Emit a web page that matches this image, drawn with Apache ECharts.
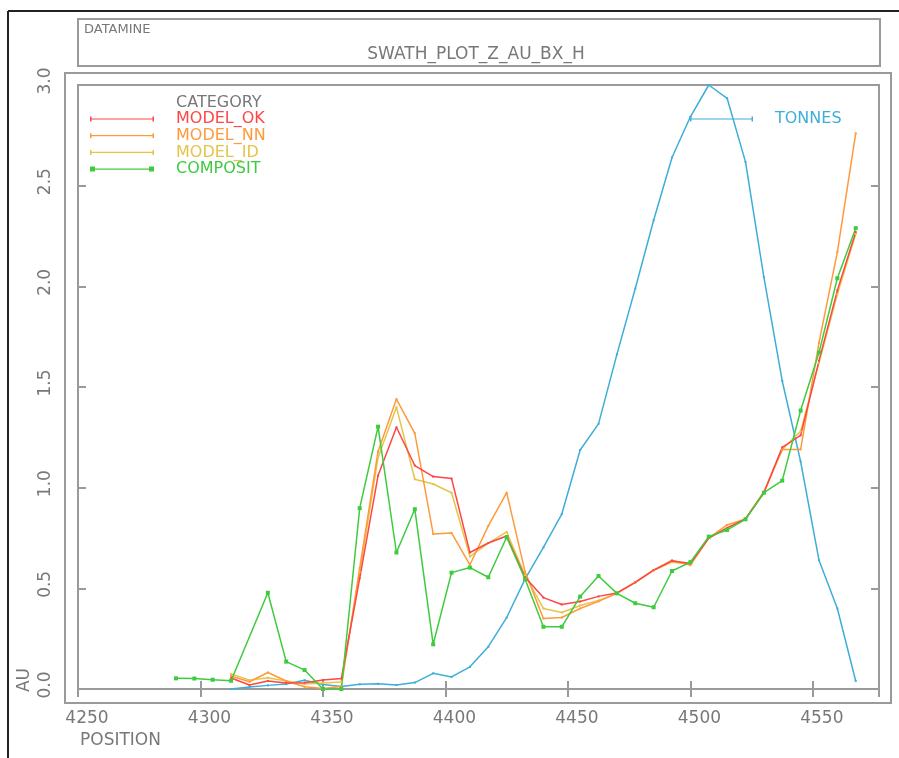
<!DOCTYPE html>
<html><head><meta charset="utf-8">
<script src="https://cdn.jsdelivr.net/npm/echarts@6/dist/echarts.min.js"></script>
<style>html,body{margin:0;padding:0;background:#fff}#c{width:899px;height:758px}</style>
</head><body><div id="c"></div>
<script>
const positions = [4290, 4297.5, 4305, 4312.5, 4320, 4327.5, 4335, 4342.5, 4350, 4357.5,
  4365, 4372.5, 4380, 4387.5, 4395, 4402.5, 4410, 4417.5, 4425, 4432.5,
  4440, 4447.5, 4455, 4462.5, 4470, 4477.5, 4485, 4492.5, 4500, 4507.5,
  4515, 4522.5, 4530, 4537.5, 4545, 4552.5, 4560, 4567.5];

const modelOK = [null, null, null, 0.055, 0.02, 0.04, 0.03, 0.031, 0.045, 0.052,
  0.55, 1.06, 1.30, 1.11, 1.055, 1.045, 0.678, 0.725, 0.76, 0.555,
  0.454, 0.42, 0.435, 0.46, 0.477, 0.53, 0.59, 0.636, 0.624, 0.75,
  0.80, 0.845, 0.975, 1.20, 1.26, 1.63, 1.98, 2.27];

const modelNN = [null, null, null, 0.065, 0.036, 0.082, 0.04, 0.011, 0.003, 0.012,
  0.60, 1.18, 1.44, 1.27, 0.77, 0.775, 0.617, 0.81, 0.975, 0.583,
  0.35, 0.355, 0.40, 0.435, 0.475, 0.53, 0.59, 0.64, 0.615, 0.75,
  0.815, 0.845, 0.98, 1.19, 1.19, 1.72, 2.17, 2.76];

const modelID = [null, null, null, 0.075, 0.044, 0.056, 0.04, 0.025, 0.03, 0.035,
  0.58, 1.15, 1.40, 1.042, 1.018, 0.975, 0.658, 0.725, 0.78, 0.565,
  0.40, 0.38, 0.415, 0.44, 0.475, 0.53, 0.59, 0.63, 0.62, 0.75,
  0.80, 0.845, 0.975, 1.19, 1.28, 1.62, 1.96, 2.26];

const composit = [0.053, 0.052, 0.046, 0.041, null, 0.478, 0.136, 0.094, 0.0, 0.0,
  0.898, 1.303, 0.678, 0.893, 0.222, 0.578, 0.603, 0.555, 0.754, 0.546,
  0.309, 0.309, 0.459, 0.561, 0.475, 0.426, 0.406, 0.586, 0.63, 0.757,
  0.79, 0.843, 0.975, 1.035, 1.383, 1.671, 2.04, 2.289];

const tonnes = [null, null, null, 0.0, 0.01, 0.018, 0.025, 0.043, 0.022, 0.012,
  0.023, 0.026, 0.02, 0.032, 0.078, 0.06, 0.11, 0.21, 0.355, 0.546,
  0.703, 0.869, 1.187, 1.317, 1.662, 1.989, 2.328, 2.64, 2.842, 3.0,
  2.934, 2.618, 2.046, 1.53, 1.13, 0.64, 0.40, 0.04];

const xTicks = { min: 4250, max: 4577, interval: 50 };
const yTicks = { min: 0, max: 3, interval: 0.5 };

const FONT = "'DejaVu Sans', sans-serif";
const GRAY = '#787878';
const BOX = '#9a9a9a';
const C = { ok: '#ff4545', nn: '#ff9a3c', id: '#e6c447', comp: '#3ecb3e', ton: '#3eaed8' };

function pts(arr) {
  return positions.map((x, i) => [x, arr[i]]).filter(d => d[1] !== null);
}
const lineIcon = 'path://M0,0h1.5v5h-1.5z M0,1.9h64v1.2h-64z M62.5,0h1.5v5h-1.5z';
const compIcon = 'path://M0,0h5v5h-5z M0,1.8h64v1.4h-64z M59,0h5v5h-5z';

function mkSeries(name, arr, color, symbol, size) {
  return {
    name, type: 'line', data: pts(arr), xAxisIndex: 0, yAxisIndex: 0,
    symbol, symbolSize: size, showSymbol: true, animation: false, silent: true,
    lineStyle: { color, width: 1.5 }, itemStyle: { color, borderWidth: 0 }
  };
}

const chart = echarts.init(document.getElementById('c'), null, { renderer: 'canvas' });
chart.setOption({
  backgroundColor: '#fff',
  animation: false,
  grid: { left: 78, top: 85, width: 801, height: 604, show: true, borderColor: BOX, borderWidth: 2, backgroundColor: 'transparent' },
  xAxis: [
    { type: 'value', position: 'bottom', min: xTicks.min, max: xTicks.max, interval: xTicks.interval,
      axisLine: { show: false }, splitLine: { show: false },
      axisTick: { show: true, inside: true, length: 8, lineStyle: { color: BOX, width: 2 } },
      axisLabel: { show: true, margin: 21, showMaxLabel: false, padding: [0, 0, 0, 18],
        formatter: v => String(v), color: GRAY, fontFamily: FONT, fontSize: 17 } },
    { type: 'value', position: 'top', min: xTicks.min, max: xTicks.max, interval: xTicks.interval,
      axisLine: { show: false }, splitLine: { show: false },
      axisTick: { show: true, inside: true, length: 8, lineStyle: { color: BOX, width: 2 } },
      axisLabel: { show: false } }
  ],
  yAxis: [
    { type: 'value', position: 'left', min: yTicks.min, max: yTicks.max, interval: yTicks.interval,
      axisLine: { show: false }, splitLine: { show: false },
      axisTick: { show: true, inside: true, length: 8, lineStyle: { color: BOX, width: 2 } },
      axisLabel: { show: true, rotate: 90, margin: 24, padding: [0, 0, 0, 8],
        formatter: v => v.toFixed(1), color: GRAY, fontFamily: FONT, fontSize: 17 } },
    { type: 'value', position: 'right', min: yTicks.min, max: yTicks.max, interval: yTicks.interval,
      axisLine: { show: false }, splitLine: { show: false },
      axisTick: { show: true, inside: true, length: 8, lineStyle: { color: BOX, width: 2 } },
      axisLabel: { show: false } }
  ],
  legend: [
    { orient: 'vertical', left: 90, top: 111, padding: 0, itemWidth: 64, itemHeight: 5, itemGap: 0.7,
      symbolKeepAspect: false, selectedMode: false,
      itemStyle: { borderWidth: 0 },
      textStyle: { fontFamily: FONT, fontSize: 16, lineHeight: 16, padding: [0, 0, 0, 17] },
      data: [
        { name: 'MODEL_OK', icon: lineIcon, textStyle: { color: C.ok } },
        { name: 'MODEL_NN', icon: lineIcon, textStyle: { color: C.nn } },
        { name: 'MODEL_ID', icon: lineIcon, textStyle: { color: C.id } },
        { name: 'COMPOSIT', icon: compIcon, textStyle: { color: C.comp } }
      ] },
    { orient: 'vertical', left: 690, top: 111, padding: 0, itemWidth: 63, itemHeight: 5,
      symbolKeepAspect: false, selectedMode: false,
      itemStyle: { borderWidth: 0 },
      textStyle: { fontFamily: FONT, fontSize: 16, lineHeight: 16, padding: [0, 0, 0, 17] },
      data: [ { name: 'TONNES', icon: lineIcon, textStyle: { color: C.ton } } ] }
  ],
  graphic: [
    { type: 'line', shape: { x1: 8, y1: 11, x2: 899, y2: 11 }, style: { stroke: '#222', lineWidth: 2 }, silent: true },
    { type: 'line', shape: { x1: 8, y1: 11, x2: 8, y2: 758 }, style: { stroke: '#222', lineWidth: 2 }, silent: true },
    { type: 'rect', shape: { x: 78, y: 19, width: 802, height: 47 }, style: { fill: 'none', stroke: BOX, lineWidth: 2 }, silent: true },
    { type: 'rect', shape: { x: 65, y: 73, width: 826, height: 630 }, style: { fill: 'none', stroke: BOX, lineWidth: 2 }, silent: true },
    { type: 'text', x: 84, y: 30, silent: true,
      style: { text: 'DATAMINE', fill: GRAY, font: '13px ' + FONT, textAlign: 'left', textVerticalAlign: 'middle', align: 'left', verticalAlign: 'middle' } },
    { type: 'text', x: 476, y: 55, silent: true,
      style: { text: 'SWATH_PLOT_Z_AU_BX_H', fill: GRAY, font: '17px ' + FONT, textAlign: 'center', textVerticalAlign: 'middle', align: 'center', verticalAlign: 'middle' } },
    { type: 'text', x: 176, y: 103, silent: true,
      style: { text: 'CATEGORY', fill: GRAY, font: '16px ' + FONT, textAlign: 'left', textVerticalAlign: 'middle', align: 'left', verticalAlign: 'middle' } },
    { type: 'text', x: 80, y: 741, silent: true,
      style: { text: 'POSITION', fill: GRAY, font: '17px ' + FONT, textAlign: 'left', textVerticalAlign: 'middle', align: 'left', verticalAlign: 'middle' } },
    { type: 'text', x: 25, y: 680, rotation: Math.PI / 2, silent: true,
      style: { text: 'AU', fill: GRAY, font: '17px ' + FONT, textAlign: 'center', textVerticalAlign: 'middle', align: 'center', verticalAlign: 'middle' } }
  ],
  series: [
    mkSeries('TONNES', tonnes, C.ton, 'rect', 2),
    mkSeries('MODEL_ID', modelID, C.id, 'rect', 2),
    mkSeries('MODEL_NN', modelNN, C.nn, 'rect', 2),
    mkSeries('MODEL_OK', modelOK, C.ok, 'rect', 2),
    mkSeries('COMPOSIT', composit, C.comp, 'rect', 4)
  ]
});
</script>
</body></html>
